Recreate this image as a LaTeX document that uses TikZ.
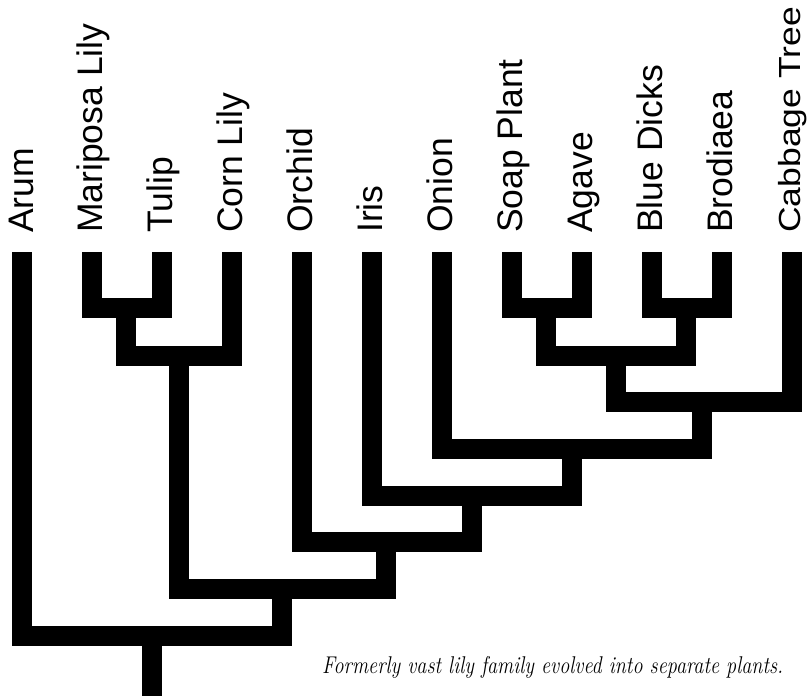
\documentclass[tikz,border=0pt]{standalone}
\usepackage{fontspec}
\newfontfamily\labfont{Liberation Sans}
\begin{document}
\begin{tikzpicture}[x=1pt,y=-1pt,
  branch/.style={line width=20pt,line join=miter,line cap=butt,black},
  lab/.style={rotate=90,anchor=base west,inner sep=0pt,font=\labfont\fontsize{35.5}{35.5}\selectfont},
  captext/.style={anchor=base west,inner sep=0pt,font=\itshape\fontsize{20.2}{20.2}\selectfont}]
\useasboundingbox (0,0) rectangle (807,696);
% leaf tops
\coordinate (arum) at (22,252);
\coordinate (mari) at (92,252);
\coordinate (tulip) at (162,252);
\coordinate (corn) at (232,252);
\coordinate (orch) at (302,252);
\coordinate (iris) at (372,252);
\coordinate (onion) at (442,252);
\coordinate (soap) at (512,252);
\coordinate (agave) at (582,252);
\coordinate (blue) at (652,252);
\coordinate (brod) at (722,252);
\coordinate (cabb) at (792,252);
% labels
\node[lab] (arumL) at (33,233) {Arum};
\node[lab] (mariL) at (102,233) {Mariposa Lily};
\node[lab] (tulipL) at (172,233) {Tulip};
\node[lab] (cornL) at (242,233) {Corn Lily};
\node[lab] (orchL) at (312,233) {Orchid};
\node[lab] (irisL) at (382,233) {Iris};
\node[lab] (onionL) at (452,233) {Onion};
\node[lab] (soapL) at (522,233) {Soap Plant};
\node[lab] (agaveL) at (592,233) {Agave};
\node[lab] (blueL) at (662,233) {Blue Dicks};
\node[lab] (brodL) at (732,233) {Brodiaea};
\node[lab,font=\labfont\fontsize{35.5}{35.5}\selectfont] (cabbL) at (800,233) {\scalebox{1}[0.86]{Cabbage Tree}};
% junctions
\coordinate (j1) at (126,308);
\coordinate (j2) at (179,356);
\coordinate (j3) at (546,308);
\coordinate (j4) at (686,308);
\coordinate (j5) at (616,356);
\coordinate (j6) at (702,402);
\coordinate (j7) at (572,449);
\coordinate (j8) at (472,496);
\coordinate (j9) at (386,542);
\coordinate (j10) at (282,589);
\coordinate (j11) at (152,636);
\coordinate (root) at (152,696);
% branches
\draw[branch] (mari) |- (j1) -| (tulip);
\draw[branch] (j1) |- (j2) -| (corn);
\draw[branch] (soap) |- (j3) -| (agave);
\draw[branch] (blue) |- (j4) -| (brod);
\draw[branch] (j3) |- (j5) -| (j4);
\draw[branch] (j5) |- (j6) -| (cabb);
\draw[branch] (onion) |- (j7) -| (j6);
\draw[branch] (iris) |- (j8) -| (j7);
\draw[branch] (orch) |- (j9) -| (j8);
\draw[branch] (j2) |- (j10) -| (j9);
\draw[branch] (arum) |- (j11) -| (j10);
\draw[branch] (j11) -- (root);
% caption
\node[captext] (caption) at (322,673) {\scalebox{1}[1.2]{Formerly vast lily family evolved into separate plants.}};
\end{tikzpicture}
\end{document}
